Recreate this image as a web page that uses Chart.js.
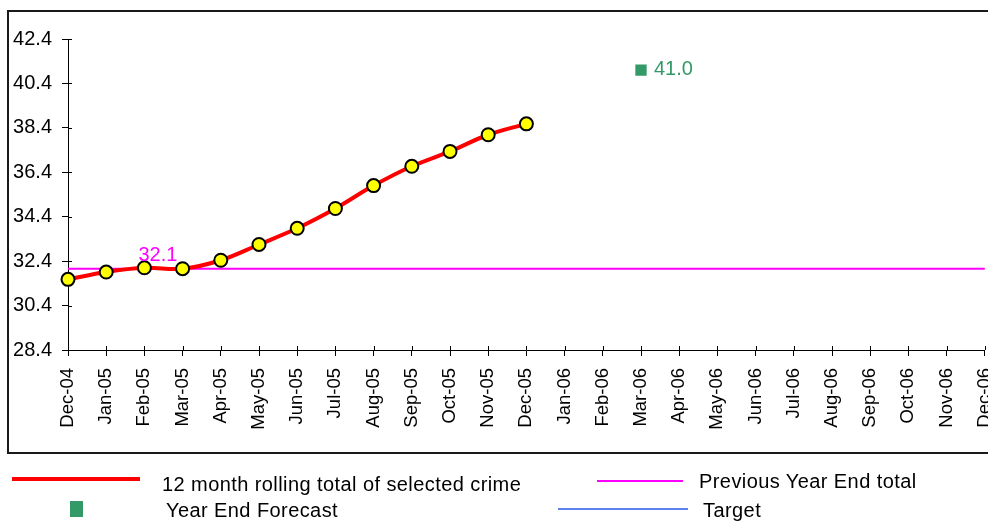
<!DOCTYPE html>
<html>
<head>
<meta charset="utf-8">
<script src="https://cdn.jsdelivr.net/npm/chart.js@4/dist/chart.umd.min.js"></script>
<style>
  body { margin: 0; width: 988px; height: 523px; overflow: hidden; background: #fff; font-family: "Liberation Sans", Arial, sans-serif; }
  #marco { position: absolute; left: 7px; top: 10px; width: 1000px; height: 440px; border: 2px solid #1a1a1a; }
  #lienzo { position: absolute; left: 0; top: 0; width: 1019px; height: 523px; }
  .ley { position: absolute; font-size: 20px; line-height: 24px; letter-spacing: 0.42px; color: #000; white-space: nowrap; }
  .raya { position: absolute; }
</style>
</head>
<body>
<div id="marco"></div>
<div id="lienzo"><canvas id="grafico"></canvas></div>

<div class="raya" style="left:12px;top:477px;width:128px;height:4px;background:#ff0000"></div>
<div class="ley" style="left:162px;top:472px">12 month rolling total of selected crime</div>
<div class="raya" style="left:70px;top:501px;width:13px;height:16px;background:#339966"></div>
<div class="ley" style="left:166px;top:498px">Year End Forecast</div>
<div class="raya" style="left:597px;top:480px;width:86px;height:2px;background:#ff00ff"></div>
<div class="ley" style="left:699px;top:469px">Previous Year End total</div>
<div class="raya" style="left:558px;top:508px;width:130px;height:2px;background:#5a82f0"></div>
<div class="ley" style="left:703px;top:498px">Target</div>

<script>
const meses = ['Dec-04', 'Jan-05', 'Feb-05', 'Mar-05', 'Apr-05', 'May-05', 'Jun-05', 'Jul-05',
  'Aug-05', 'Sep-05', 'Oct-05', 'Nov-05', 'Dec-05', 'Jan-06', 'Feb-06', 'Mar-06', 'Apr-06',
  'May-06', 'Jun-06', 'Jul-06', 'Aug-06', 'Sep-06', 'Oct-06', 'Nov-06', 'Dec-06'];
const totalMovil = [31.58, 31.91, 32.10, 32.06, 32.44, 33.15, 33.88, 34.77, 35.80, 36.67, 37.34, 38.09, 38.58];
const totalAnioAnterior = 32.06;
const mesEtiquetaAnterior = 'Feb-05';
const pronosticoMes = 'Mar-06';
const pronosticoValor = 41.0;
const objetivo = [];
const ticksY = [28.4, 30.4, 32.4, 34.4, 36.4, 38.4, 40.4, 42.4];

const extras = {
  id: 'extras',
  afterDraw(chart) {
    const ctx = chart.ctx;
    const x = chart.scales.x;
    const y = chart.scales.y;
    const area = chart.chartArea;

    // small tick stubs crossing into the plot
    ctx.save();
    ctx.strokeStyle = '#000';
    ctx.lineWidth = 1;
    ctx.beginPath();
    meses.forEach((m, i) => {
      const px = Math.round(x.getPixelForValue(i)) + 0.5;
      ctx.moveTo(px, area.bottom);
      ctx.lineTo(px, area.bottom - 4);
    });
    ticksY.forEach(v => {
      const py = Math.round(y.getPixelForValue(v)) + 0.5;
      ctx.moveTo(area.left, py);
      ctx.lineTo(area.left + 4, py);
    });
    ctx.stroke();

    ctx.font = '20px "Liberation Sans", Arial, sans-serif';
    ctx.textBaseline = 'middle';
    ctx.textAlign = 'left';

    ctx.fillStyle = '#ff00ff';
    const ix = meses.indexOf(mesEtiquetaAnterior);
    ctx.fillText(totalAnioAnterior.toFixed(1), x.getPixelForValue(ix) - 6, y.getPixelForValue(totalAnioAnterior) - 13);

    ctx.fillStyle = '#339966';
    const fx = meses.indexOf(pronosticoMes);
    ctx.fillText(pronosticoValor.toFixed(1), x.getPixelForValue(fx) + 13, y.getPixelForValue(pronosticoValor) - 1);
    ctx.restore();
  }
};

function dibujarGrafico() {
  const ctx = document.getElementById('grafico').getContext('2d');
  new Chart(ctx, {
    type: 'line',
    data: {
      labels: meses,
      datasets: [
        {
          label: '12 month rolling total of selected crime',
          data: totalMovil,
          borderColor: '#ff0000',
          borderWidth: 4,
          tension: 0.35,
          pointRadius: 6.5,
          pointBackgroundColor: '#ffff00',
          pointBorderColor: '#000',
          pointBorderWidth: 2,
          order: 0
        },
        {
          label: 'Previous Year End total',
          data: [{ x: meses[0], y: totalAnioAnterior }, { x: meses[meses.length - 1], y: totalAnioAnterior }],
          borderColor: '#ff00ff',
          borderWidth: 2,
          pointRadius: 0,
          order: 1
        },
        {
          label: 'Year End Forecast',
          data: [{ x: pronosticoMes, y: pronosticoValor }],
          showLine: false,
          pointStyle: 'rect',
          pointRadius: 8,
          pointBackgroundColor: '#339966',
          pointBorderWidth: 0,
          order: 2
        },
        {
          label: 'Target',
          data: objetivo,
          borderColor: '#5a82f0',
          borderWidth: 2,
          pointRadius: 0,
          order: 3
        }
      ]
    },
    options: {
      responsive: true,
      maintainAspectRatio: false,
      animation: false,
      layout: { padding: { left: 0, top: 39, right: 13, bottom: 73 } },
      plugins: { legend: { display: false }, tooltip: { enabled: false } },
      scales: {
        x: {
          offset: false,
          grid: { drawOnChartArea: false, tickLength: 6, color: '#000' },
          border: { color: '#000', width: 1 },
          ticks: {
            autoSkip: false,
            minRotation: 90,
            maxRotation: 90,
            padding: 12,
            color: '#000',
            font: { family: '"Liberation Sans", Arial, sans-serif', size: 18.5 }
          },
          afterFit(scale) { scale.height = 100; }
        },
        y: {
          min: 28.4,
          max: 42.4,
          grid: { drawOnChartArea: false, tickLength: 6, color: '#000' },
          border: { color: '#000', width: 1 },
          ticks: {
            padding: 10,
            color: '#000',
            font: { family: '"Liberation Sans", Arial, sans-serif', size: 20 },
            callback: v => v.toFixed(1)
          },
          afterBuildTicks(scale) { scale.ticks = ticksY.map(v => ({ value: v })); },
          afterFit(scale) { scale.width = 68; }
        }
      }
    },
    plugins: [extras]
  });
}

dibujarGrafico();
</script>
</body>
</html>
